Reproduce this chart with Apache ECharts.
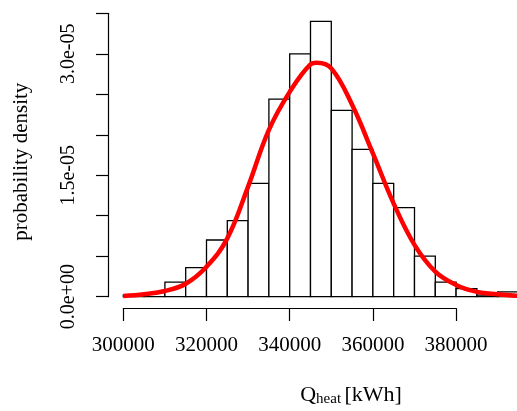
<!DOCTYPE html>
<html>
<head>
<meta charset="utf-8">
<script src="https://cdn.jsdelivr.net/npm/echarts@6/dist/echarts.min.js"></script>
<style>
  html, body { margin: 0; padding: 0; background: #fff; }
  #chart { width: 517px; height: 411px; }
</style>
</head>
<body>
<div id="chart"></div>
<script>
// Histogram bins (kWh) and densities
const binStart = [300000, 305000, 310000, 315000, 320000, 325000, 330000, 335000, 340000, 345000,
                  350000, 355000, 360000, 365000, 370000, 375000, 380000, 385000, 390000];
const binEnd   = [305000, 310000, 315000, 320000, 325000, 330000, 335000, 340000, 345000, 350000,
                  355000, 360000, 365000, 370000, 375000, 380000, 385000, 390000, 395000];
const density  = [0.02e-5, 0.05e-5, 0.18e-5, 0.36e-5, 0.70e-5, 0.94e-5, 1.40e-5, 2.44e-5, 3.00e-5, 3.40e-5,
                  2.30e-5, 1.82e-5, 1.40e-5, 1.10e-5, 0.50e-5, 0.18e-5, 0.10e-5, 0.02e-5, 0.06e-5];

// Fitted normal density curve
const curveX = [300000, 305000, 310000, 315000, 320000, 325000, 330000, 335000, 340000, 345000, 346500,
                350000, 355000, 360000, 365000, 370000, 375000, 380000, 385000, 390000, 395000];
const curveY = [0.01e-5, 0.03e-5, 0.07e-5, 0.16e-5, 0.37e-5, 0.72e-5, 1.36e-5, 2.06e-5, 2.53e-5, 2.87e-5, 2.89e-5,
                2.82e-5, 2.37e-5, 1.77e-5, 1.15e-5, 0.64e-5, 0.31e-5, 0.145e-5, 0.06e-5, 0.03e-5, 0.01e-5];

// Tick labels
const xTickLabels = ['300000', '320000', '340000', '360000', '380000'];
const yTickValues = [0, 1.5e-5, 3.0e-5];
const yTickLabels = ['0.0e+00', '1.5e-05', '3.0e-05'];

const FONT = 'Liberation Serif';

const histData = binStart.map((s, i) => [s, binEnd[i], density[i]]);
const curveData = curveX.map((x, i) => [x, curveY[i]]);

const chart = echarts.init(document.getElementById('chart'), null, { renderer: 'canvas' });

chart.setOption({
  animation: false,
  backgroundColor: '#ffffff',
  grid: [
    { left: 123.3, right: 0, top: 13.3, bottom: 114.3, containLabel: false, outerBoundsMode: 'none' },
    { left: 123.3, width: 332.8, top: 13.3, bottom: 102.7, containLabel: false, outerBoundsMode: 'none' }
  ],
  xAxis: [
    { type: 'value', gridIndex: 0, min: 300000, max: 394640, show: false },
    {
      type: 'value', gridIndex: 1, min: 300000, max: 380000, interval: 20000,
      axisLine: { show: true, lineStyle: { color: '#000', width: 1.2 } },
      axisTick: { show: true, inside: false, length: 12.7, lineStyle: { color: '#000', width: 1.2 } },
      splitLine: { show: false },
      axisLabel: {
        color: '#000', fontFamily: FONT, fontSize: 21, margin: 27,
        formatter: function (v) {
          const i = Math.round((v - 300000) / 20000);
          return xTickLabels[i] !== undefined ? xTickLabels[i] : '';
        }
      }
    }
  ],
  yAxis: [
    {
      type: 'value', gridIndex: 0, min: 0, max: 3.5e-5, interval: 0.5e-5, offset: 15.3,
      axisLine: { show: true, lineStyle: { color: '#000', width: 1.2 } },
      axisTick: { show: true, inside: false, length: 12, lineStyle: { color: '#000', width: 1.2 } },
      splitLine: { show: false },
      axisLabel: {
        color: '#000', fontFamily: FONT, fontSize: 20, rotate: 90, margin: 29,
        formatter: function (v) {
          for (let i = 0; i < yTickValues.length; i++) {
            if (Math.abs(v - yTickValues[i]) < 1e-9) return yTickLabels[i];
          }
          return '';
        }
      }
    },
    { type: 'value', gridIndex: 1, show: false, min: 0, max: 1 }
  ],
  series: [
    {
      type: 'custom',
      xAxisIndex: 0, yAxisIndex: 0,
      data: histData,
      encode: { x: [0, 1], y: 2 },
      z: 2,
      renderItem: function (params, api) {
        const p0 = api.coord([api.value(0), api.value(2)]);
        const p1 = api.coord([api.value(1), 0]);
        return {
          type: 'rect',
          shape: { x: p0[0], y: p0[1], width: p1[0] - p0[0], height: p1[1] - p0[1] },
          style: { fill: '#ffffff', stroke: '#000000', lineWidth: 1.3 }
        };
      }
    },
    {
      type: 'line',
      xAxisIndex: 0, yAxisIndex: 0,
      data: curveData,
      smooth: 0.4,
      showSymbol: false,
      symbol: 'none',
      z: 5,
      lineStyle: { color: '#ff0000', width: 4.5 }
    }
  ],
  graphic: [
    {
      type: 'text',
      x: 21, y: 161.7,
      rotation: Math.PI / 2,
      style: {
        text: 'probability density',
        fontFamily: FONT, fontSize: 21, fill: '#000',
        align: 'center', verticalAlign: 'middle'
      }
    },
    {
      type: 'text',
      x: 351, y: 395,
      style: {
        text: '{q|Q}{s|heat} {n|[kWh]}',
        align: 'center', verticalAlign: 'middle',
        rich: {
          q: { fontFamily: FONT, fontSize: 22, fill: '#000', lineHeight: 24, verticalAlign: 'middle' },
          s: { fontFamily: FONT, fontSize: 15, fill: '#000', lineHeight: 15, verticalAlign: 'bottom', padding: [8, 0, 0, 0] },
          n: { fontFamily: FONT, fontSize: 22, fill: '#000', lineHeight: 24, verticalAlign: 'middle' }
        }
      }
    }
  ]
});
</script>
</body>
</html>
